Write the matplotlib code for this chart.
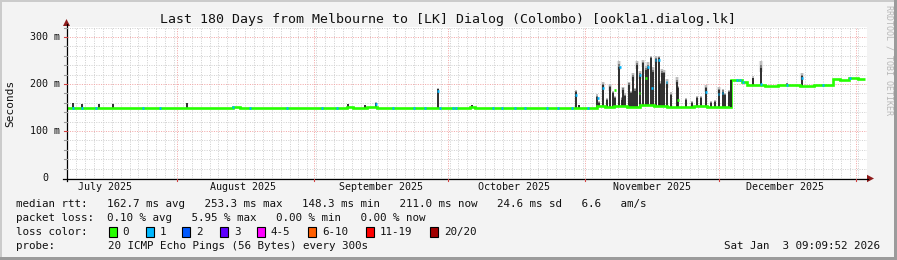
import matplotlib
matplotlib.use("Agg")
import matplotlib.pyplot as plt
from matplotlib.patches import Rectangle, Polygon
from matplotlib.lines import Line2D
import matplotlib.transforms as mtransforms
import numpy as np
from datetime import datetime, timedelta, timezone

# ------------------------------------------------------------------ data
title = "Last 180 Days from Melbourne to [LK] Dialog (Colombo) [ookla1.dialog.lk]"
y_label = "Seconds"
y_tick_ms = [0, 100, 200, 300]
y_tick_labels = ["0", "100 m", "200 m", "300 m"]
month_labels = ["July 2025", "August 2025", "September 2025",
                "October 2025", "November 2025", "December 2025"]

# median rtt (step series): day since start of window, value in ms
median_day = [0.0, 1.0, 1.6, 3.0, 3.6, 6.2, 7.0, 10.3, 12.0, 16.0,
              19.8, 29.9, 31.5, 37.4, 39.0, 43.4, 49.5, 58.1, 60.8, 63.0,
              64.4, 67.5, 69.8, 74.9, 77.9, 90.7, 91.8, 96.0, 100.0, 119.3,
              121.0, 123.0, 126.0, 129.0, 132.0, 135.0, 138.0, 141.0, 144.0, 147.0,
              149.4, 151.8, 152.9, 154.3, 157.0, 160.0, 165.0, 168.0, 172.4, 174.0,
              176.0, 178.0, 179.6]
median_ms = [148.5, 149.5, 148.5, 149.5, 148.3, 149.0, 148.3, 150.0, 148.5, 149.5,
             148.3, 149.8, 148.3, 150.5, 148.3, 149.5, 148.3, 149.4, 148.3, 150.5,
             148.8, 150.3, 148.5, 149.3, 148.3, 150.5, 148.3, 149.0, 148.3, 153.0,
             151.0, 154.0, 152.0, 155.0, 153.0, 152.0, 151.0, 153.0, 151.0, 152.0,
             208.5, 205.0, 197.0, 197.5, 196.5, 197.0, 196.5, 197.3, 211.0, 209.0,
             212.0, 210.0, 210.0]

# days where the median carries 1/20 loss (drawn in the "1" colour)
loss1_day = [1.3, 3.3, 6.5, 17.1, 20.9, 37.4, 41.2, 49.5, 57.4, 60.8,
             73.4, 78.1, 80.6, 83.9, 86.9, 87.5, 95.9, 97.9, 100.8, 103.1,
             108.0, 110.5, 113.6, 117.2, 150.8, 151.5, 152.2, 162.0, 170.0, 176.2]

# smoke spikes: day, dark top (ms), faint smoke top (ms)
spike_day = [1.3, 3.3, 7.2, 10.3, 26.9, 63.3, 67.1, 69.5, 83.4, 91.1,
             114.5, 115.2,
             119.3, 119.8, 120.5, 121.4, 122.2, 122.8, 123.3, 124.3, 124.8, 125.1,
             125.6, 126.5, 127.0, 127.4, 127.9, 128.2, 128.9, 129.5, 130.3, 130.8,
             131.4, 131.9, 132.5, 133.2, 133.5, 133.8, 134.3, 134.9,
             136.0, 137.2, 137.5, 139.3, 140.7, 141.7, 142.7, 143.8, 144.9, 145.8,
             146.6, 147.5, 148.1, 149.0,
             154.3, 156.2, 162.0, 165.4]
spike_top = [159, 157, 157, 157, 159, 157, 155, 160, 188.7, 155,
             182, 155,
             173, 160, 198, 166, 194, 180, 170, 237, 167, 188,
             175, 198, 180, 215, 186, 240, 219, 244, 230, 237,
             255, 226, 253, 255, 200, 223, 223, 200,
             177, 205, 191, 166, 160, 170, 170, 191, 160, 162,
             187, 184, 177, 184,
             212, 233, 201, 217]
spike_smoke = [160, 158, 158, 158, 160, 158, 156, 161, 191, 156,
               187, 156,
               178, 163, 204, 170, 200, 185, 175, 248, 172, 194,
               180, 205, 185, 223, 192, 249, 227, 252, 239, 246,
               260, 236, 259, 260, 207, 232, 230, 210,
               182, 214, 196, 170, 164, 174, 174, 197, 164, 166,
               193, 189, 181, 188,
               216, 248, 203, 223]

# median points sitting on top of spikes: day, ms, loss class
tip_day = [69.5, 83.4, 114.5, 119.4, 120.6, 123.3, 124.4, 128.8, 128.9, 130.2,
           130.7, 131.7, 132.4, 133.2, 134.9, 137.5, 143.8, 146.6, 147.5, 156.2, 165.4]
tip_ms = [158, 186, 177, 170, 192, 187, 237, 180, 219, 213,
          237, 192, 251, 251, 204, 166, 182, 178, 180, 201, 212]
tip_loss = [1, 1, 1, 1, 1, 0, 1, 0, 1, 0,
            1, 1, 1, 1, 1, 0, 1, 1, 1, 1, 1]

loss_labels = ["0", "1", "2", "3", "4-5", "6-10", "11-19", "20/20"]
loss_colors = ["#26ff00", "#00b8ff", "#0059ff", "#5e00ff",
               "#ff00ff", "#ff5e00", "#ff0000", "#a10000"]

legend_rtt = ("median rtt:   162.7 ms avg   253.3 ms max   148.3 ms min   "
              "211.0 ms now   24.6 ms sd   6.6   am/s")
legend_loss = "packet loss:  0.10 % avg   5.95 % max   0.00 % min   0.00 % now"
probe_text = "20 ICMP Echo Pings (56 Bytes) every 300s"
stamp_text = "Sat Jan  3 09:09:52 2026"

# ------------------------------------------------------------------ time axis
AEST = timezone(timedelta(hours=10))
AEDT = timezone(timedelta(hours=11))
end_time = datetime(2026, 1, 3, 9, 9, 52, tzinfo=AEDT)
span_days = 180
start_time = end_time - timedelta(days=span_days)


def day_of(dt):
    return (dt - start_time).total_seconds() / 86400.0


month_starts = [datetime(2025, 8, 1, tzinfo=AEST), datetime(2025, 9, 1, tzinfo=AEST),
                datetime(2025, 10, 1, tzinfo=AEST), datetime(2025, 11, 1, tzinfo=AEDT),
                datetime(2025, 12, 1, tzinfo=AEDT), datetime(2026, 1, 1, tzinfo=AEDT)]
label_dates = [datetime(2025, 7, 16, tzinfo=AEST), datetime(2025, 8, 16, tzinfo=AEST),
               datetime(2025, 9, 16, tzinfo=AEST), datetime(2025, 10, 16, tzinfo=AEDT),
               datetime(2025, 11, 16, tzinfo=AEDT), datetime(2025, 12, 16, tzinfo=AEDT)]

# minor grid: every second UTC midnight
start_ts = start_time.timestamp()
first_even = int(np.ceil(start_ts / 86400.0))
if first_even % 2:
    first_even += 1
minor_days = []
t = first_even
while (t * 86400 - start_ts) / 86400.0 < span_days:
    minor_days.append((t * 86400 - start_ts) / 86400.0)
    t += 2

# ------------------------------------------------------------------ layout
W, H, DPI = 897, 260, 100
MONO = "DejaVu Sans Mono"
X0, X1 = 67, 867
Y0 = 178
PX_PER_MS = 0.47
YMAX = 322
ytop = Y0 - YMAX * PX_PER_MS


def fx(x):
    return x / W


def fy(y):
    return 1 - y / H


fig = plt.figure(figsize=(W / DPI, H / DPI), dpi=DPI, facecolor="#f3f3f3")
ax = fig.add_axes([fx(X0), fy(Y0), (X1 - X0) / W, (Y0 - ytop) / H])
ax.set_xlim(0, span_days)
ax.set_ylim(0, YMAX)
ax.set_facecolor("white")
ax.set_xticks([])
ax.set_yticks([])
for s in ax.spines.values():
    s.set_visible(False)

grid_gray = "#d0d0d0"
grid_red = "#f2a6a6"
dots = (0, (1, 1.4))
for v in range(20, YMAX, 20):
    if v % 100:
        ax.axhline(v, color=grid_gray, lw=0.72, ls=dots, zorder=0)
for d in minor_days:
    ax.axvline(d, color=grid_gray, lw=0.72, ls=dots, zorder=0)
for v in y_tick_ms[1:]:
    ax.axhline(v, color=grid_red, lw=0.72, ls=dots, zorder=0.5)
for m in month_starts:
    ax.axvline(day_of(m), color=grid_red, lw=0.72, ls=dots, zorder=0.5)

md = np.array(median_day)
mm = np.array(median_ms)


def med_at(d):
    i = np.searchsorted(md, d, side="right") - 1
    i = min(max(i, 0), len(mm) - 1)
    return mm[i]


sd = np.array(spike_day)
st = np.array(spike_top, dtype=float)
ss = np.array(spike_smoke, dtype=float)
base = np.array([min(med_at(d - 0.3), med_at(d + 0.3)) for d in sd])

# faint smoke halo
big = ss - st >= 6
ax.vlines(sd[big], st[big] - 8, ss[big], colors="#e4e4e4", lw=3.0, zorder=1.5)
mid = st + 0.45 * (ss - st)
ax.vlines(sd, st, mid, colors="#707070", lw=1.3, zorder=2.5)
ax.vlines(sd, mid, ss, colors="#b8b8b8", lw=1.3, zorder=2.4)
ax.vlines(sd, base, st, colors="#1e1e1e", lw=1.3, zorder=3)

# median line
ax.step(md, mm, where="post", color=loss_colors[0], lw=1.9, zorder=4,
        solid_capstyle="butt", solid_joinstyle="miter")
# large jumps of the median appear as dark verticals
jump = np.abs(np.diff(mm)) > 20
jd = md[1:][jump]
ax.vlines(jd, np.minimum(mm[:-1], mm[1:])[jump], np.maximum(mm[:-1], mm[1:])[jump],
          colors="#1e1e1e", lw=1.3, zorder=4.5)
for d in loss1_day:
    ax.hlines(med_at(d), d - 0.22, d + 0.22, colors=loss_colors[1], lw=1.9, zorder=5)
tcol = [loss_colors[k] for k in tip_loss]
ax.hlines(tip_ms, np.array(tip_day) - 0.2, np.array(tip_day) + 0.2,
          colors=tcol, lw=1.9, zorder=6)

# ------------------------------------------------------------------ axes lines/arrows
def fig_line(xs, ys, **kw):
    fig.add_artist(Line2D([fx(x) for x in xs], [fy(y) for y in ys],
                          transform=fig.transFigure, **kw))


fig_line([63, 868], [Y0 + 0.5, Y0 + 0.5], color="black", lw=0.9)
fig_line([X0 - 0.5, X0 - 0.5], [Y0 + 3, 24], color="black", lw=0.9)
arrow_col = "#8e1b1b"
fig.add_artist(Polygon([(fx(867), fy(Y0 - 3.2)), (fx(874), fy(Y0 + 0.5)), (fx(867), fy(Y0 + 4.2))],
                       closed=True, transform=fig.transFigure, color=arrow_col, lw=0))
fig.add_artist(Polygon([(fx(X0 - 4), fy(26)), (fx(X0 - 0.5), fy(19)), (fx(X0 + 3), fy(26))],
                       closed=True, transform=fig.transFigure, color=arrow_col, lw=0))

# small ticks on axes
bx = mtransforms.blended_transform_factory(ax.transData, fig.transFigure)
by = mtransforms.blended_transform_factory(fig.transFigure, ax.transData)
for m in month_starts:
    fig.add_artist(Line2D([day_of(m)] * 2, [fy(Y0 + 0.5), fy(Y0 + 3)], transform=bx,
                          color="#d04040", lw=0.8))
for v in range(20, YMAX, 20):
    c = "#d04040" if v % 100 == 0 else "#9a9a9a"
    fig.add_artist(Line2D([fx(X0 - 3), fx(X0 - 0.5)], [v, v], transform=by, color=c, lw=0.8))

# ------------------------------------------------------------------ text
fig.text(fx(447.5), fy(19), title, family=MONO, fontsize=9.5, ha="center", va="center",
         color="#111111")
fig.text(fx(10), fy(103), y_label, family=MONO, fontsize=8, rotation=90,
         ha="center", va="center", color="#111111")
for v, lab in zip(y_tick_ms, y_tick_labels):
    xr = 60 if v else 48
    ax.text(fx(xr), v, lab, transform=by, family=MONO, fontsize=7.2,
            ha="right", va="center", color="#111111")
for dt, lab in zip(label_dates, month_labels):
    ax.text(day_of(dt), fy(187.5), lab, transform=bx, family=MONO, fontsize=7.2,
            ha="center", va="center", color="#111111")

fig.text(fx(888.5), fy(60), "RRDTOOL / TOBI OETIKER", family=MONO, fontsize=6,
         rotation=270, ha="center", va="center", color="#b8b8b8")

fs = 7.85
fig.text(fx(16), fy(204.3), legend_rtt, family=MONO, fontsize=fs, va="center", color="#111111")
fig.text(fx(16), fy(218.3), legend_loss, family=MONO, fontsize=fs, va="center", color="#111111")
fig.text(fx(16), fy(232.3), "loss color:", family=MONO, fontsize=fs, va="center", color="#111111")
box_x = [108.7, 145.9, 181.9, 220.3, 256.9, 307.8, 366.1, 430.2]
for bxp, col, lab in zip(box_x, loss_colors, loss_labels):
    fig.add_artist(Rectangle((fx(bxp), fy(237)), 8 / W, 10 / H, transform=fig.transFigure,
                             facecolor=col, edgecolor="black", lw=0.8))
    fig.text(fx(bxp + 14), fy(232.3), lab, family=MONO, fontsize=fs, va="center",
             color="#111111")
fig.text(fx(16), fy(246.3), "probe:", family=MONO, fontsize=fs, va="center", color="#111111")
fig.text(fx(107.5), fy(246.3), probe_text, family=MONO, fontsize=fs, va="center",
         color="#111111")
fig.text(fx(880), fy(246.3), stamp_text, family=MONO, fontsize=fs, va="center",
         ha="right", color="#111111")

# frame (3D shade)
fig.add_artist(Rectangle((0, fy(2)), 1, 2 / H, transform=fig.transFigure, color="#cbcbcb", lw=0))
fig.add_artist(Rectangle((0, 0), 2 / W, 1, transform=fig.transFigure, color="#cbcbcb", lw=0))
fig.add_artist(Rectangle((0, 0), 1, 3 / H, transform=fig.transFigure, color="#9b9b9b", lw=0))
fig.add_artist(Rectangle((fx(894), 0), 3 / W, 1, transform=fig.transFigure, color="#9b9b9b", lw=0))

fig.savefig("out.png", dpi=DPI, facecolor=fig.get_facecolor())
